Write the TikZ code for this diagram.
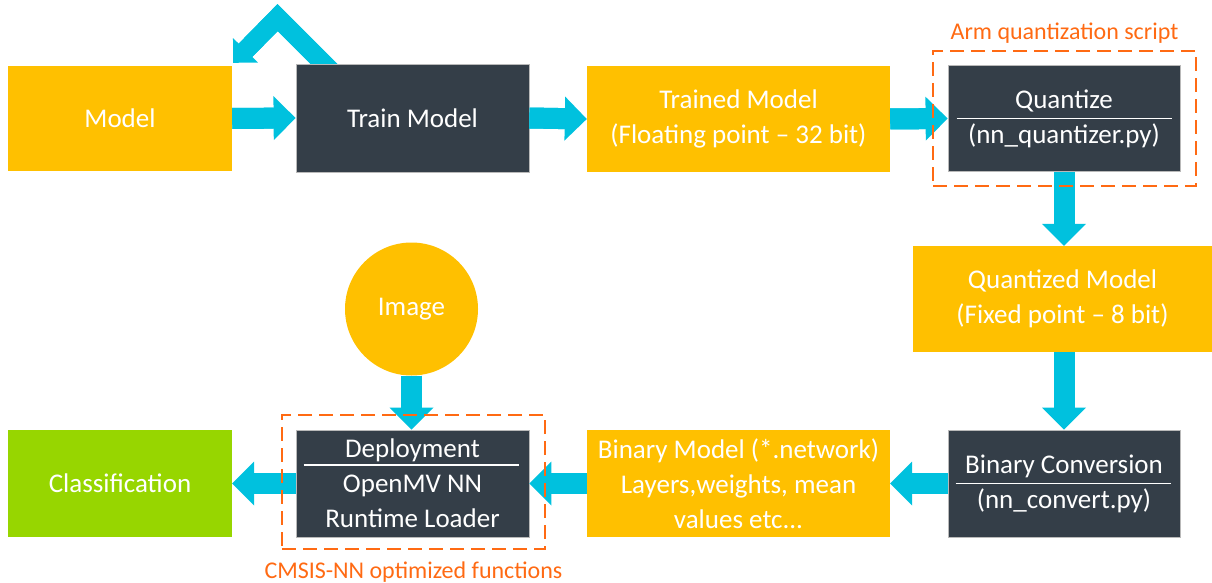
\documentclass[tikz,border=0pt]{standalone}
\usepackage{fontspec}
\setmainfont{Carlito}
\usetikzlibrary{arrows.meta,positioning,backgrounds}
\definecolor{nnorange}{HTML}{FFC000}
\definecolor{nndark}{HTML}{343E48}
\definecolor{nncyan}{HTML}{00C1DE}
\definecolor{nngreen}{HTML}{97D600}
\definecolor{nnline}{HTML}{FF6A13}
\tikzset{
  box/.style={rectangle, inner sep=0pt, align=center, text=white,
              minimum height=106pt, font=\fontsize{27}{35}\selectfont},
  data/.style={box, fill=nnorange, minimum width=#1},
  tool/.style={box, fill=nndark, draw=gray!55, line width=0.8pt,
               minimum width=#1},
  result/.style={box, fill=nngreen, minimum width=#1},
  % shaft drawn a little into the head so no seam shows
  flow/.style={draw=nncyan, line width=21pt,
               -{Triangle[length=22pt, width=44pt, line width=0pt]},
               preaction={draw=nncyan, line width=21pt, -, shorten >=18pt}},
  loopflow/.style={draw=nncyan, line width=19pt,
               -{Triangle[length=17.5pt, width=35pt, line width=0pt]},
               preaction={draw=nncyan, line width=19pt, -, shorten >=14pt}},
  split/.style={draw=white, line width=1.4pt},
  scriptbox/.style={draw=nnline, line width=2.6pt,
                    dash pattern=on 14pt off 7pt, inner sep=0pt},
  lbl/.style={text=nnline, font=\fontsize{24}{28}\selectfont, inner sep=2pt},
}

\begin{document}
\begin{tikzpicture}[x=1pt, y=-1pt]
  \useasboundingbox (0,0) rectangle (1212,583);
  % top row
  \node[data=224pt, minimum height=105pt] (model) at (120,118.5) {Model};
  \node[tool=233pt, minimum height=108pt] (train) at (412.5,118) {Train Model};
  \node[data=303pt] (trained) at (738.5,119)
    {Trained Model\\(Floating point -- 32 bit)};
  \node[tool=232pt] (quant) at (1064,118.5)
    {Quantize\\(nn\_quantizer.py)};
  % right column
  \node[data=299pt] (quantm) at (1062.5,299)
    {Quantized Model\\(Fixed point -- 8 bit)};
  % bottom row
  \node[tool=232pt, minimum height=107pt] (conv) at (1064,483.5)
    {Binary Conversion\\(nn\_convert.py)};
  \node[data=303pt, minimum height=107pt] (binm) at (738.5,483.5)
    {Binary Model (*.network)\\Layers,weights, mean\\values etc...};
  \node[tool=233pt, minimum height=107pt] (deploy) at (412.5,483.5)
    {Deployment\\OpenMV NN\\Runtime Loader};
  \node[result=224pt, minimum height=107pt] (classif) at (120,483.5)
    {Classification};
  \node[circle, fill=nnorange, text=white, minimum size=133pt,
        font=\fontsize{27}{35}\selectfont] (img) at (411.5,309) {Image};

  % rules inside the script boxes
  \draw[split] ([xshift=9pt]quant.west) -- ([xshift=-8pt]quant.east);
  \draw[split] ([xshift=8pt]conv.west) -- ([xshift=-9pt]conv.east);
  \draw[split] ([shift={(8pt,18.5pt)}]deploy.west)
    -- ([shift={(-10pt,18.5pt)}]deploy.east);

  % training loop, tucked behind the box
  \begin{scope}[on background layer]
    \draw[loopflow] ([shift={(38pt,-10pt)}]train.north west)
      -- ++(-56,-56) -- ([shift={(1pt,3pt)}]model.north east);
  \end{scope}

  % pipeline arrows
  \draw[flow] (model.east) -- (train.west);
  \draw[flow] (train.east) -- (trained.west);
  \draw[flow] (trained.east) -- (quant.west);
  \draw[flow] (quant.south) -- (quant.south |- quantm.north);
  \draw[flow] (quantm.south -| conv.north) -- (conv.north);
  \draw[flow] (conv.west) -- (binm.east);
  \draw[flow] (binm.west) -- (deploy.east);
  \draw[flow] (deploy.west) -- (classif.east);
  \draw[flow] (img.south) -- (img.south |- deploy.north);

  % dashed groups
  \node[scriptbox, minimum width=263pt, minimum height=135pt]
    (armbox) at (1064.5,118.5) {};
  \node[lbl, above=4.5pt of armbox] (armlbl) {Arm quantization script};
  \node[scriptbox, minimum width=263pt, minimum height=134pt]
    (cmsisbox) at (413.5,482) {};
  \node[lbl, below=9pt of cmsisbox] (cmsislbl) {CMSIS-NN optimized functions};
\end{tikzpicture}
\end{document}
